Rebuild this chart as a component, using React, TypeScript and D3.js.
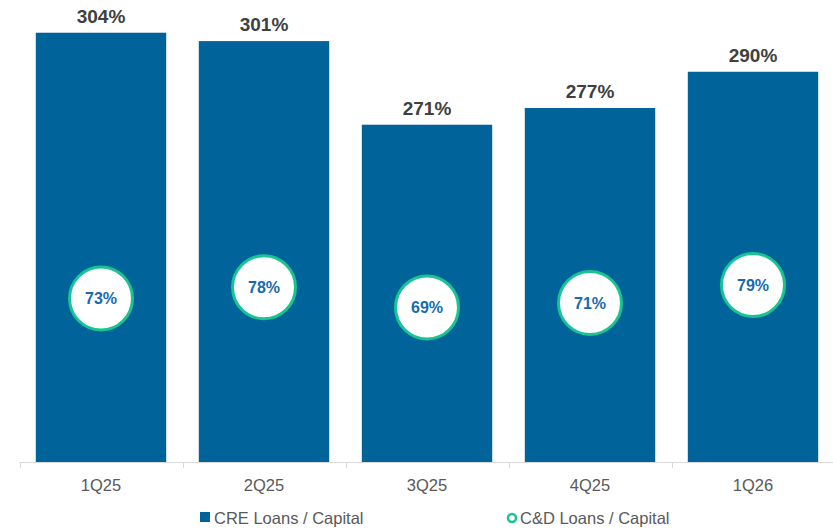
import React, { useRef, useEffect } from "react";
import * as d3 from "d3";

const quarters = ["1Q25", "2Q25", "3Q25", "4Q25", "1Q26"];
const creValues = [304, 301, 271, 277, 290];
const cdValues = [73, 78, 69, 71, 79];
const legendLabels = ["CRE Loans / Capital", "C&D Loans / Capital"];

const BAR_COLOR = "#00649b";
const RING_COLOR = "#19c392";
const FONT = "Liberation Sans, Arial, sans-serif";

const App = () => {
    const svgRef = useRef<SVGSVGElement>(null);

    useEffect(() => {
        if (!svgRef.current) return;
        const width = 833;
        const height = 531;
        const baseY = 462;

        const svg = d3.select(svgRef.current);
        svg.selectAll("*").remove();
        svg.attr("width", width).attr("height", height);

        const x = d3.scaleBand().domain(quarters).range([19.5, 834.5]).padding(0);
        const barW = x.bandwidth() * 0.8;

        // primary axis does not start at zero
        const y = d3.scaleLinear().domain([150, 310]).range([baseY, 16]);
        // secondary axis for C&D ratio
        const y2 = d3.scaleLinear().domain([0, 200]).range([baseY, 14]);

        // bars
        svg.selectAll(".bar")
            .data(creValues)
            .enter()
            .append("rect")
            .attr("class", "bar")
            .attr("x", (_, i) => x(quarters[i])! + (x.bandwidth() - barW) / 2)
            .attr("y", (d) => y(d))
            .attr("width", barW)
            .attr("height", (d) => baseY - y(d))
            .attr("fill", BAR_COLOR);

        // bar labels
        svg.selectAll(".bar-label")
            .data(creValues)
            .enter()
            .append("text")
            .attr("class", "bar-label")
            .attr("x", (_, i) => x(quarters[i])! + x.bandwidth() / 2)
            .attr("y", (d) => y(d) - 10)
            .attr("text-anchor", "middle")
            .style("font-family", FONT)
            .style("font-size", "19px")
            .style("font-weight", "bold")
            .style("fill", "#404040")
            .text((d) => `${d}%`);

        // x axis
        const axis = svg.append("g").attr("transform", `translate(0,${baseY})`);
        axis.append("line")
            .attr("x1", 19.5).attr("x2", 833)
            .attr("y1", 0.5).attr("y2", 0.5)
            .attr("stroke", "#d9d9d9");
        const tickXs = quarters.map((q) => x(q)!).concat([x.range()[1]]);
        axis.selectAll(".tick-mark")
            .data(tickXs)
            .enter()
            .append("line")
            .attr("x1", (d) => Math.round(d) + 0.5)
            .attr("x2", (d) => Math.round(d) + 0.5)
            .attr("y1", 0).attr("y2", 6)
            .attr("stroke", "#d9d9d9");
        axis.selectAll(".tick-label")
            .data(quarters)
            .enter()
            .append("text")
            .attr("x", (d) => x(d)! + x.bandwidth() / 2)
            .attr("y", 29)
            .attr("text-anchor", "middle")
            .style("font-family", FONT)
            .style("font-size", "16.5px")
            .style("fill", "#595959")
            .text((d) => d);

        // C&D markers
        const marks = svg.selectAll(".cd")
            .data(cdValues)
            .enter()
            .append("g")
            .attr("transform", (d, i) => `translate(${x(quarters[i])! + x.bandwidth() / 2},${y2(d)})`);
        marks.append("circle")
            .attr("r", 31.5)
            .attr("fill", "#ffffff")
            .attr("stroke", RING_COLOR)
            .attr("stroke-width", 3);
        marks.append("text")
            .attr("text-anchor", "middle")
            .attr("dy", "0.36em")
            .style("font-family", FONT)
            .style("font-size", "16px")
            .style("font-weight", "bold")
            .style("fill", "#1769b0")
            .text((d) => `${d}%`);

        // legend
        const legend = svg.append("g").attr("transform", "translate(0,518)");
        legend.append("rect")
            .attr("x", 200).attr("y", -6)
            .attr("width", 10).attr("height", 10)
            .attr("fill", BAR_COLOR);
        legend.append("text")
            .attr("x", 214).attr("y", 6)
            .style("font-family", FONT)
            .style("font-size", "16.5px")
            .style("fill", "#595959")
            .text(legendLabels[0]);
        legend.append("circle")
            .attr("cx", 512).attr("cy", 0)
            .attr("r", 4)
            .attr("fill", "#ffffff")
            .attr("stroke", RING_COLOR)
            .attr("stroke-width", 2.5);
        legend.append("text")
            .attr("x", 520).attr("y", 6)
            .style("font-family", FONT)
            .style("font-size", "16.5px")
            .style("fill", "#595959")
            .text(legendLabels[1]);
    }, []);

    return <svg ref={svgRef} style={{ position: "absolute", left: 0, top: 0 }} />;
};

export default App;
